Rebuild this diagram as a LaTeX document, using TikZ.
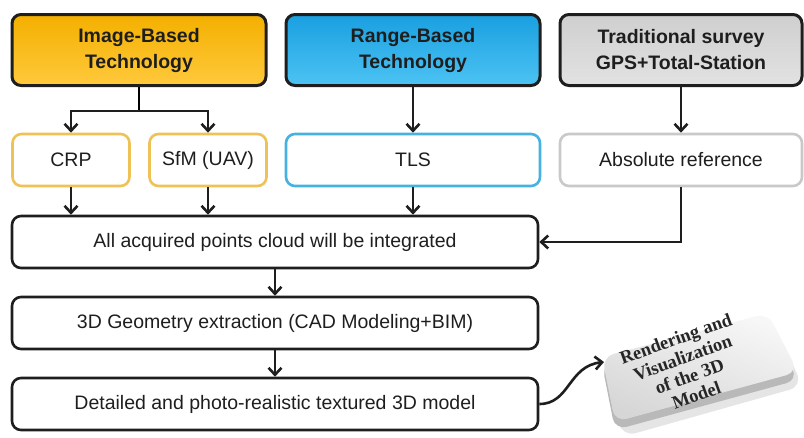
\documentclass[tikz,border=0pt]{standalone}
\usepackage{fontspec}
\setmainfont{Liberation Sans}
\newfontfamily\slabfont{Liberation Serif}
\usetikzlibrary{arrows.meta, positioning, calc}
\definecolor{cgold}{HTML}{F4B000}
\definecolor{cgoldlt}{HTML}{FFC93C}
\definecolor{cgoldln}{HTML}{EEC256}
\definecolor{cblue}{HTML}{1A9FE0}
\definecolor{cbluelt}{HTML}{4CC3F3}
\definecolor{cblueln}{HTML}{45B2E2}
\definecolor{cgrey}{HTML}{CFCFCF}
\definecolor{cgreylt}{HTML}{E2E2E2}
\definecolor{cgreyln}{HTML}{C9C9C9}
\definecolor{cink}{HTML}{1E1E1E}
\tikzset{
  every picture/.style={x=1pt, y=-1pt, line width=2.6pt},
  box/.style={draw=cink, rounded corners=9pt, align=center, inner sep=0pt,
              minimum height=52pt, font=\fontsize{19.5}{25}\selectfont, text=cink},
  head/.style={box, line width=3pt, minimum width=254pt, minimum height=71pt,
               top color=#1, bottom color=#1lt, font=\fontsize{19.5}{26}\selectfont\bfseries},
  sub/.style={box, draw=#1ln, fill=white},
  arrow/.style={-{Straight Barb[length=7pt, width=13pt]}, draw=cink, line width=2.6pt},
}
\begin{document}
\begin{tikzpicture}
  \useasboundingbox (0,0) rectangle (804,437);

  % ---- sources
  \node[head=cgold] (imgtech) at (139,50) {Image-Based\\Technology};
  \node[head=cblue] (rngtech) at (413,50) {Range-Based\\Technology};
  \node[head=cgrey, minimum width=242pt] (survey) at (681,50) {Traditional survey\\GPS+Total-Station};

  \node[sub=cgold, minimum width=117pt] (crp) at (71,160) {CRP};
  \node[sub=cgold, minimum width=117pt] (sfm) at (208,160) {SfM (UAV)};
  \node[sub=cblue, minimum width=254pt] (tls) at (413,160) {TLS};
  \node[sub=cgrey, minimum width=242pt] (absref) at (681,160) {Absolute reference};

  \draw (imgtech.south) -- ++(0,24) coordinate (split);
  \draw[arrow] (split) -| (crp.north);
  \draw[arrow] (split) -| (sfm.north);
  \draw[arrow] (rngtech) -- (tls);
  \draw[arrow] (survey) -- (absref);

  % ---- processing chain
  \node[box, minimum width=526pt] (merge) at (275,242) {All acquired points cloud will be integrated};
  \node[box, minimum width=526pt] (geom) at (275,323) {3D Geometry extraction (CAD Modeling+BIM)};
  \node[box, minimum width=526pt] (model) at (275,404) {Detailed and photo-realistic textured 3D model};

  \foreach \src in {crp, sfm, tls}
    { \draw[arrow] (\src.south) -- (\src.south |- merge.north); }
  \draw[arrow] (absref.south) |- (merge.east);
  \draw[arrow] (merge) -- (geom);
  \draw[arrow] (geom) -- (model);

  % ---- output slab
  \fill[black, opacity=0.10, rounded corners=14pt]
    (606,366) -- (772,322) -- (803,386) -- (622,437) -- cycle;
  \fill[gray!55, rounded corners=12pt]
    (602,364) -- (768,320) -- (798,380) -- (615,430) -- cycle;
  \shade[top color=gray!6, bottom color=gray!32, shading angle=-20, rounded corners=12pt]
    (602,357) -- (768,313) -- (798,372) -- (615,422) -- cycle;
  \node[rotate=20, align=center, inner sep=0pt, text=black!85,
        font=\slabfont\bfseries\fontsize{18.5}{20}\selectfont] (render) at (686,367)
    {Rendering and\\Visualization\\of the 3D\\Model};
  \coordinate (slabin) at (604,362);
  \draw[arrow] (model.east) .. controls (570,404) and (568,366) .. (slabin);
\end{tikzpicture}
\end{document}
